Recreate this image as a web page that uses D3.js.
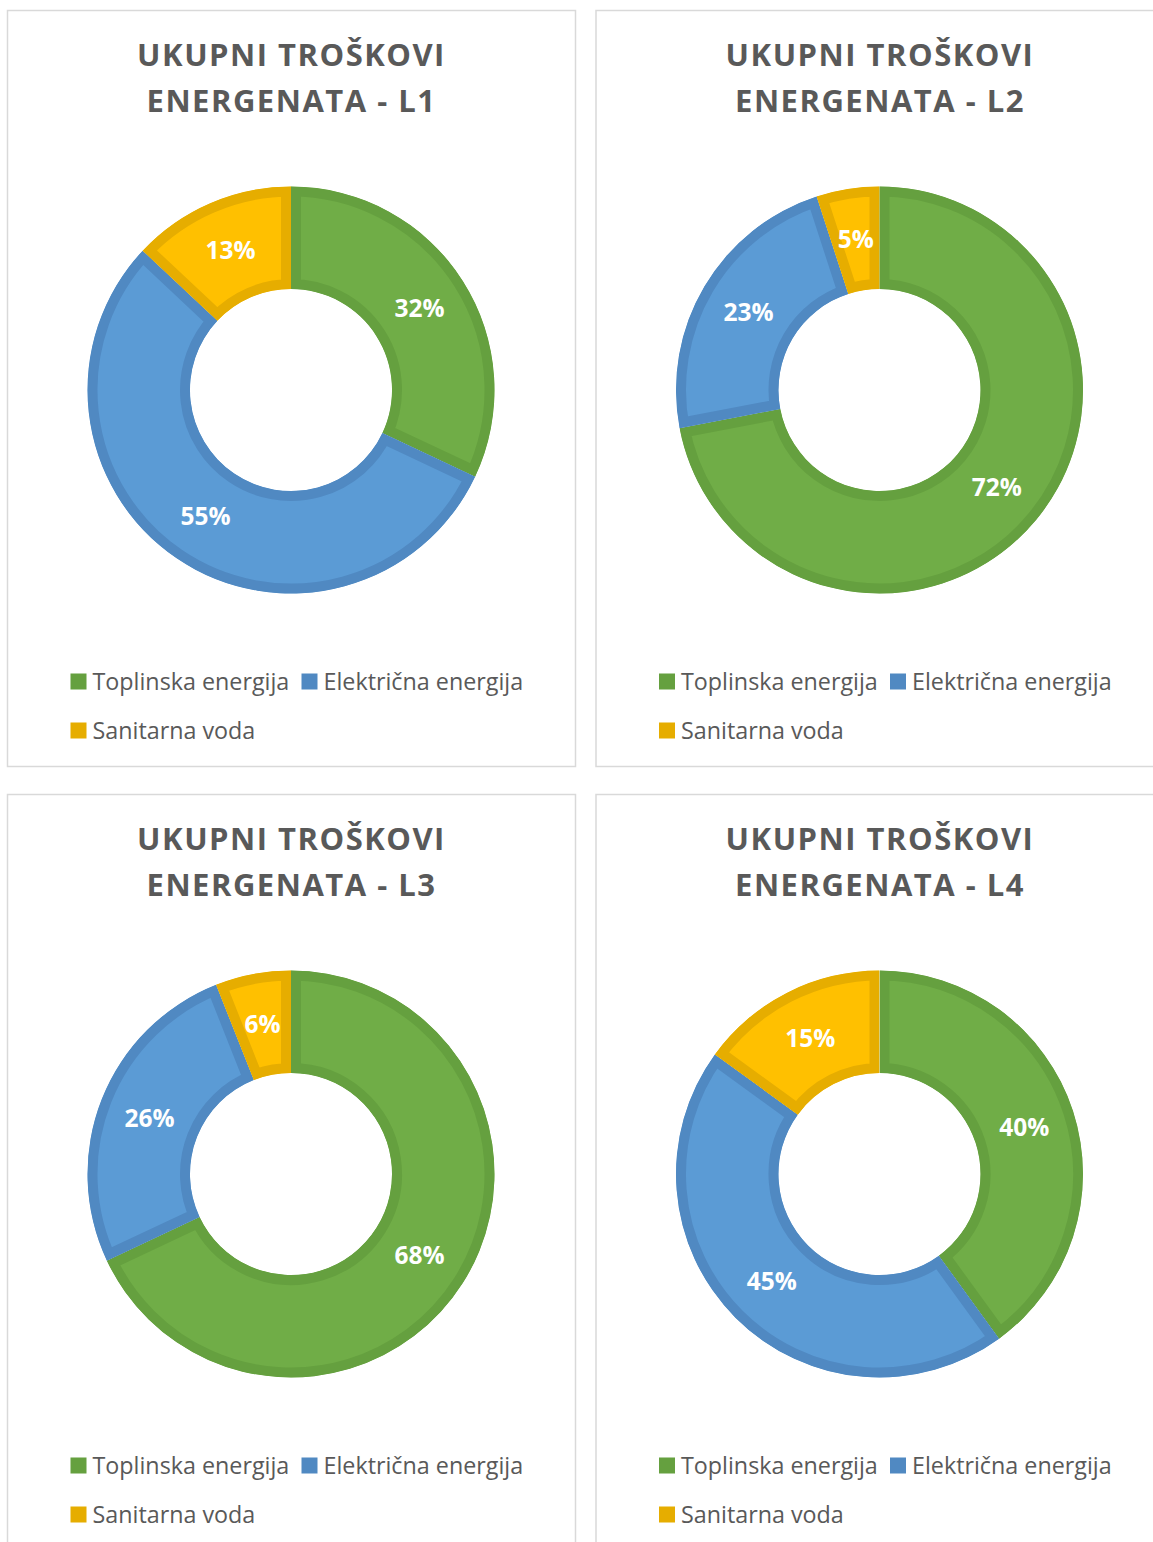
<!DOCTYPE html>
<html>
<head>
<meta charset="utf-8">
<script src="https://cdn.jsdelivr.net/npm/d3@7"></script>
<style>
  body { margin: 0; background: #fff; }
  text { font-family: "Open Sans", sans-serif; }
</style>
</head>
<body>
<script>
// data
var panels = ["L1", "L2", "L3", "L4"];
var categories = ["Toplinska energija", "Električna energija", "Sanitarna voda"];
var toplinska = [32, 72, 68, 40];
var elektricna = [55, 23, 26, 45];
var sanitarna = [13, 5, 6, 15];

var fills = ["#70AD47", "#5B9BD5", "#FFC000"],
    strokes = ["#65A03F", "#5089C2", "#E6AD00"];

var width = 1153, height = 1542;

var svg = d3.select("body").append("svg")
    .attr("width", width)
    .attr("height", height);

var defs = svg.append("defs");

var panelW = 568, panelH = 756;
var origins = [[7.5, 10.5], [596, 10.5], [7.5, 794.5], [596, 794.5]];

var pie = d3.pie().sort(null).value(function(d) { return d.value; });
// border of each slice is drawn inside it (clipped to the slice)
var arc = d3.arc().innerRadius(101).outerRadius(203.5);

panels.forEach(function(p, i) {
    var g = svg.append("g")
        .attr("transform", "translate(" + origins[i][0] + "," + origins[i][1] + ")");

    // panel border
    g.append("rect")
        .attr("width", panelW)
        .attr("height", panelH)
        .attr("fill", "#fff")
        .attr("stroke", "#D9D9D9")
        .attr("stroke-width", 1.5);

    // title
    var title = g.append("text")
        .attr("x", panelW / 2)
        .attr("text-anchor", "middle")
        .attr("fill", "#595959")
        .attr("font-size", "31px")
        .attr("font-weight", "700")
        .attr("letter-spacing", "1.5px");
    title.append("tspan").attr("x", panelW / 2).attr("y", 55).text("UKUPNI TROŠKOVI");
    title.append("tspan").attr("x", panelW / 2).attr("y", 101).text("ENERGENATA - " + p);

    var data = [
        {name: categories[0], value: toplinska[i]},
        {name: categories[1], value: elektricna[i]},
        {name: categories[2], value: sanitarna[i]}
    ];
    var arcs = pie(data);

    arcs.forEach(function(d, j) {
        defs.append("clipPath")
            .attr("id", "clip-" + i + "-" + j)
            .append("path")
            .attr("d", arc(d));
    });

    var donut = g.append("g")
        .attr("transform", "translate(" + (panelW / 2 - 0.5) + "," + 379.5 + ")");

    // clip paths are in user space of the donut group, so wrap each slice
    donut.selectAll("path.slice")
        .data(arcs)
        .enter().append("path")
        .attr("class", "slice")
        .attr("d", arc)
        .attr("clip-path", function(d, j) { return "url(#clip-" + i + "-" + j + ")"; })
        .attr("fill", function(d, j) { return fills[j]; })
        .attr("stroke", function(d, j) { return strokes[j]; })
        .attr("stroke-width", 20)
        .attr("stroke-linejoin", "miter");

    donut.selectAll("text.lbl")
        .data(arcs)
        .enter().append("text")
        .attr("class", "lbl")
        .attr("transform", function(d) { return "translate(" + arc.centroid(d) + ")"; })
        .attr("dy", "0.35em")
        .attr("text-anchor", "middle")
        .attr("fill", "#fff")
        .attr("font-size", "24.5px")
        .attr("font-weight", "700")
        .text(function(d) { return d.value + "%"; });

    // legend
    var legendPos = [[63, 671], [294, 671], [63, 720]];
    categories.forEach(function(c, j) {
        var lg = g.append("g")
            .attr("transform", "translate(" + legendPos[j][0] + "," + legendPos[j][1] + ")");
        lg.append("rect")
            .attr("x", 0)
            .attr("y", -8)
            .attr("width", 16)
            .attr("height", 16)
            .attr("fill", strokes[j]);
        lg.append("text")
            .attr("x", 22)
            .attr("dy", "0.35em")
            .attr("fill", "#595959")
            .attr("font-size", "23.3px")
            .text(c);
    });
});
</script>
</body>
</html>
